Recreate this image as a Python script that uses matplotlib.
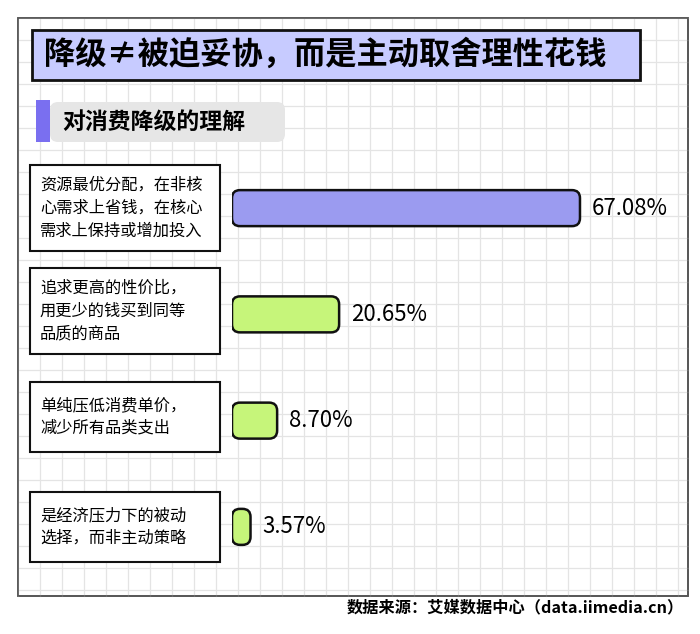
import matplotlib
matplotlib.use("Agg")
import matplotlib.pyplot as plt
from matplotlib.patches import FancyBboxPatch, Rectangle

plt.rcParams['font.family'] = ['Noto Sans CJK SC', 'DejaVu Sans']

title = "降级≠被迫妥协，而是主动取舍理性花钱"
subtitle = "对消费降级的理解"
categories = ["资源最优分配，在非核\n心需求上省钱，在核心\n需求上保持或增加投入",
              "追求更高的性价比，\n用更少的钱买到同等\n品质的商品",
              "单纯压低消费单价，\n减少所有品类支出",
              "是经济压力下的被动\n选择，而非主动策略"]
values = [67.08, 20.65, 8.70, 3.57]
colors = ["#9b9bf0", "#c6f57a", "#c6f57a", "#c6f57a"]
source = "数据来源：艾媒数据中心（data.iimedia.cn）"

W, H = 700, 634
fig = plt.figure(figsize=(7, 6.34), dpi=100)
bg = fig.add_axes([0, 0, 1, 1])
bg.set_xlim(0, W); bg.set_ylim(H, 0); bg.axis('off')

bg.add_patch(Rectangle((18, 18), 670, 578, facecolor='white', edgecolor='#555555', lw=1.2, zorder=1))
for x in range(18, 688, 22):
    bg.plot([x, x], [18, 596], color='#e4e4e4', lw=0.9, zorder=1.2)
for y in range(18, 596, 22):
    bg.plot([18, 688], [y, y], color='#e4e4e4', lw=0.9, zorder=1.2)
bg.add_patch(Rectangle((18, 18), 670, 578, facecolor='none', edgecolor='#555555', lw=1.2, zorder=1.3))

bg.add_patch(Rectangle((32, 30), 608, 50, facecolor='#c7cbff', edgecolor='#111111', lw=2, zorder=2))
bg.text(44, 55, title, fontsize=22.5, fontweight='bold', va='center', ha='left', zorder=3)

bg.add_patch(FancyBboxPatch((50, 102), 235, 40, boxstyle="round,pad=0,rounding_size=8",
                            facecolor='#e6e6e6', edgecolor='none', zorder=2))
bg.add_patch(Rectangle((36, 100), 14, 42, facecolor='#7a6ff0', edgecolor='none', zorder=3))
bg.text(62, 122, subtitle, fontsize=16.5, fontweight='bold', va='center', ha='left', zorder=3)

centers = [208, 311, 417, 527]
heights = [86, 86, 70, 70]
for c, h, lab in zip(centers, heights, categories):
    bg.add_patch(Rectangle((30, c - h / 2), 190, h, facecolor='white', edgecolor='#111111', lw=1.5, zorder=2))
    bg.text(40, c, lab, fontsize=11.7, va='center', ha='left', linespacing=1.45, zorder=3)

bg.text(684, 607, source, fontsize=11.7, fontweight='bold', ha='right', va='center')

ax = fig.add_axes([232 / W, 1 - 580 / H, 415 / W, 425 / H])
ax.set_xlim(0, 80); ax.set_ylim(3.5, -0.5); ax.axis('off')
px_x = 415 / 80; px_y = 425 / 4
for i, (v, col) in enumerate(zip(values, colors)):
    bh = 36 / px_y
    ax.add_patch(FancyBboxPatch((0, i - bh / 2), v, bh,
                                boxstyle="round,pad=0,rounding_size=%f" % (8 / px_x),
                                mutation_aspect=px_x / px_y,
                                facecolor=col, edgecolor='#111111', lw=1.8))
    ax.text(v + 12 / px_x, i, f"{v:.2f}%", fontsize=16, va='center', ha='left')

fig.savefig("out.png", dpi=100)
